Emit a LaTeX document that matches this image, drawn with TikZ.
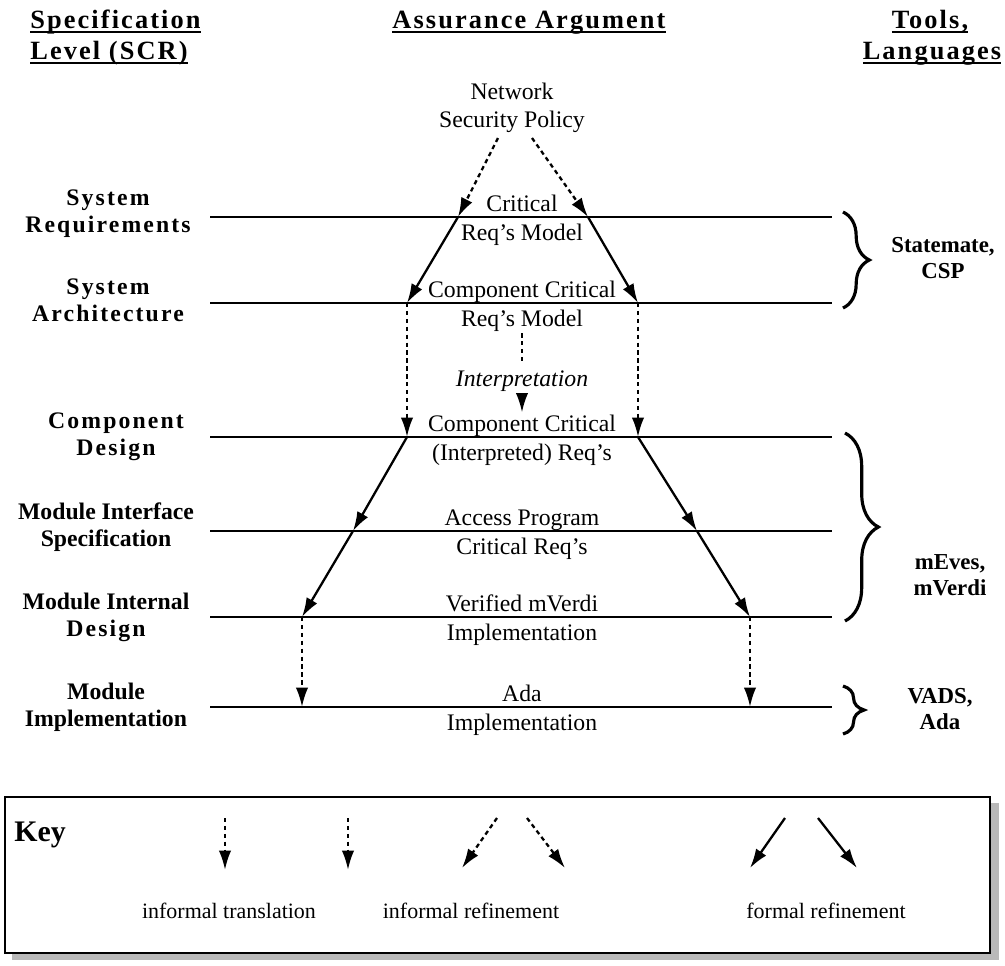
\documentclass[tikz,border=0pt]{standalone}
\usepackage{fontspec}
\setmainfont{Liberation Serif}
\newfontfamily\headfont[LetterSpace=8]{Liberation Serif}
\usetikzlibrary{arrows.meta,decorations.pathreplacing}

\newcommand\hdul[1]{\setbox0\hbox{#1}\rlap{\rule[-3pt]{\wd0}{1.1pt}}\box0}
\newcommand\spaced[1]{{\addfontfeature{LetterSpace=9}#1}}

\tikzset{
  head/.style={font=\headfont\bfseries\fontsize{15}{20}\selectfont, inner sep=0pt},
  lvl/.style={font=\bfseries\fontsize{13.5}{15.3}\selectfont, align=center},
  arg/.style={font=\fontsize{13.5}{16}\selectfont, align=center, inner sep=1pt},
  tool/.style={font=\bfseries\fontsize{13}{14.5}\selectfont, align=center},
  keytxt/.style={font=\fontsize{12.5}{15}\selectfont, inner sep=1pt},
  level/.style={line width=1.4pt},
  formal/.style={line width=1.3pt, -{Latex[length=11pt,width=7pt]}},
  informal/.style={formal, dash pattern=on 2.5pt off 2pt},
  brc/.style={decorate, decoration={brace, amplitude=#1}, line width=1.8pt},
}

\begin{document}
\begin{tikzpicture}[x=0.02cm,y=-0.02cm]
\useasboundingbox (0,0) rectangle (1005,965);

\node[head,anchor=base west] (spec1) at (30,28) {\hdul{Specification}};
\node[head,anchor=base west] (spec2) at (30,59) {\hdul{Level (SCR)}};
\node[head,anchor=base] (assur) at (529,28) {\hdul{Assurance Argument}};
\node[head,anchor=base] (tool1) at (930,28) {\hdul{Tools,}};
\node[head,anchor=base] (tool2) at (932,59) {\hdul{Languages}};

\foreach \y in {217,303,437,531,617,707}
  \draw[level] (210,\y) -- (832,\y);

\node[lvl] (sysreq) at (108,214) {\spaced{System}\\\spaced{Requirements}};
\node[lvl] (sysarch) at (108,300) {\spaced{System}\\\spaced{Architecture}};
\node[lvl] (compdes) at (116,437) {\spaced{Component}\\\spaced{Design}};
\node[lvl] (modif) at (106,527) {Module Interface\\Specification};
\node[lvl] (modint) at (106,617) {Module Internal\\\spaced{Design}};
\node[lvl] (modimp) at (106,707) {Module\\Implementation};

\node[arg] (net) at (512,108) {Network\\Security Policy};
\node[arg,anchor=base] (sr-a) at (522,211) {Critical};
\node[arg,anchor=base] (sr-b) at (522,240) {Req's Model};
\node[arg,anchor=base] (sa-a) at (522,297) {Component Critical};
\node[arg,anchor=base] (sa-b) at (522,326) {Req's Model};
\node[arg,font=\itshape\fontsize{13.5}{16}\selectfont,inner sep=4pt] (interp) at (522,381) {Interpretation};
\node[arg,anchor=base] (cd-a) at (522,431) {Component Critical};
\node[arg,anchor=base] (cd-b) at (522,460) {(Interpreted) Req's};
\node[arg,anchor=base] (mi-a) at (522,525) {Access Program};
\node[arg,anchor=base] (mi-b) at (522,554) {Critical Req's};
\node[arg,anchor=base] (md-a) at (522,611) {Verified mVerdi};
\node[arg,anchor=base] (md-b) at (522,640) {Implementation};
\node[arg,anchor=base] (mm-a) at (522,701) {Ada};
\node[arg,anchor=base] (mm-b) at (522,730) {Implementation};

\coordinate (net-l) at (498,138);
\coordinate (net-r) at (532,138);
\coordinate (sr-l) at (458,217);
\coordinate (sr-r) at (588,217);
\coordinate (sa-l) at (407,303);
\coordinate (sa-r) at (638,303);
\coordinate (cd-l) at (407,437);
\coordinate (cd-r) at (638,437);
\coordinate (mi-l) at (353,531);
\coordinate (mi-r) at (697,531);
\coordinate (md-l) at (302,617);
\coordinate (md-r) at (750,617);
\coordinate (mm-l) at (302,707);
\coordinate (mm-r) at (750,707);

\draw[informal] (net-l) -- (sr-l);
\draw[informal] (net-r) -- (sr-r);
\draw[formal] (sr-l) -- (sa-l);
\draw[formal] (sr-r) -- (sa-r);
\draw[informal] (sa-l) -- (cd-l);
\draw[informal] (sa-r) -- (cd-r);
\draw[informal,-] (sa-b.south) -- (interp.north);
\draw[informal] (interp.south) -- (cd-a.north);
\draw[formal] (cd-l) -- (mi-l);
\draw[formal] (mi-l) -- (md-l);
\draw[formal] (cd-r) -- (mi-r);
\draw[formal] (mi-r) -- (md-r);
\draw[informal] (md-l) -- (mm-l);
\draw[informal] (md-r) -- (mm-r);

\draw[brc=15pt] (843,212) -- (843,308);
\node[tool] (t-sc) at (943,258) {Statemate,\\CSP};
\draw[brc=19pt] (845,433) -- (845,621);
\node[tool] (t-mv) at (950,575) {mEves,\\mVerdi};
\draw[brc=12pt] (843,686) -- (843,734);
\node[tool] (t-va) at (940,709) {VADS,\\Ada};

\fill[gray!55] (12,803) rectangle (999,960);
\draw[line width=1.5pt,fill=white] (5,797) rectangle (990,953);
\node[font=\bfseries\fontsize{17}{20}\selectfont,anchor=base west,inner sep=0pt] (key) at (14,841) {Key};

\coordinate (k1a) at (225,818);
\coordinate (k1b) at (225,870);
\coordinate (k2a) at (348,818);
\coordinate (k2b) at (348,870);
\coordinate (k3a) at (497,818);
\coordinate (k3b) at (462,868);
\coordinate (k4a) at (527,818);
\coordinate (k4b) at (565,868);
\coordinate (k5a) at (785,818);
\coordinate (k5b) at (750,868);
\coordinate (k6a) at (818,818);
\coordinate (k6b) at (857,868);
\draw[informal] (k1a) -- (k1b);
\draw[informal] (k2a) -- (k2b);
\draw[informal] (k3a) -- (k3b);
\draw[informal] (k4a) -- (k4b);
\draw[formal] (k5a) -- (k5b);
\draw[formal] (k6a) -- (k6b);
\node[keytxt,anchor=base] (k-itr) at (229,918) {informal translation};
\node[keytxt,anchor=base] (k-iref) at (471,918) {informal refinement};
\node[keytxt,anchor=base] (k-fref) at (826,918) {formal refinement};
\end{tikzpicture}
\end{document}
